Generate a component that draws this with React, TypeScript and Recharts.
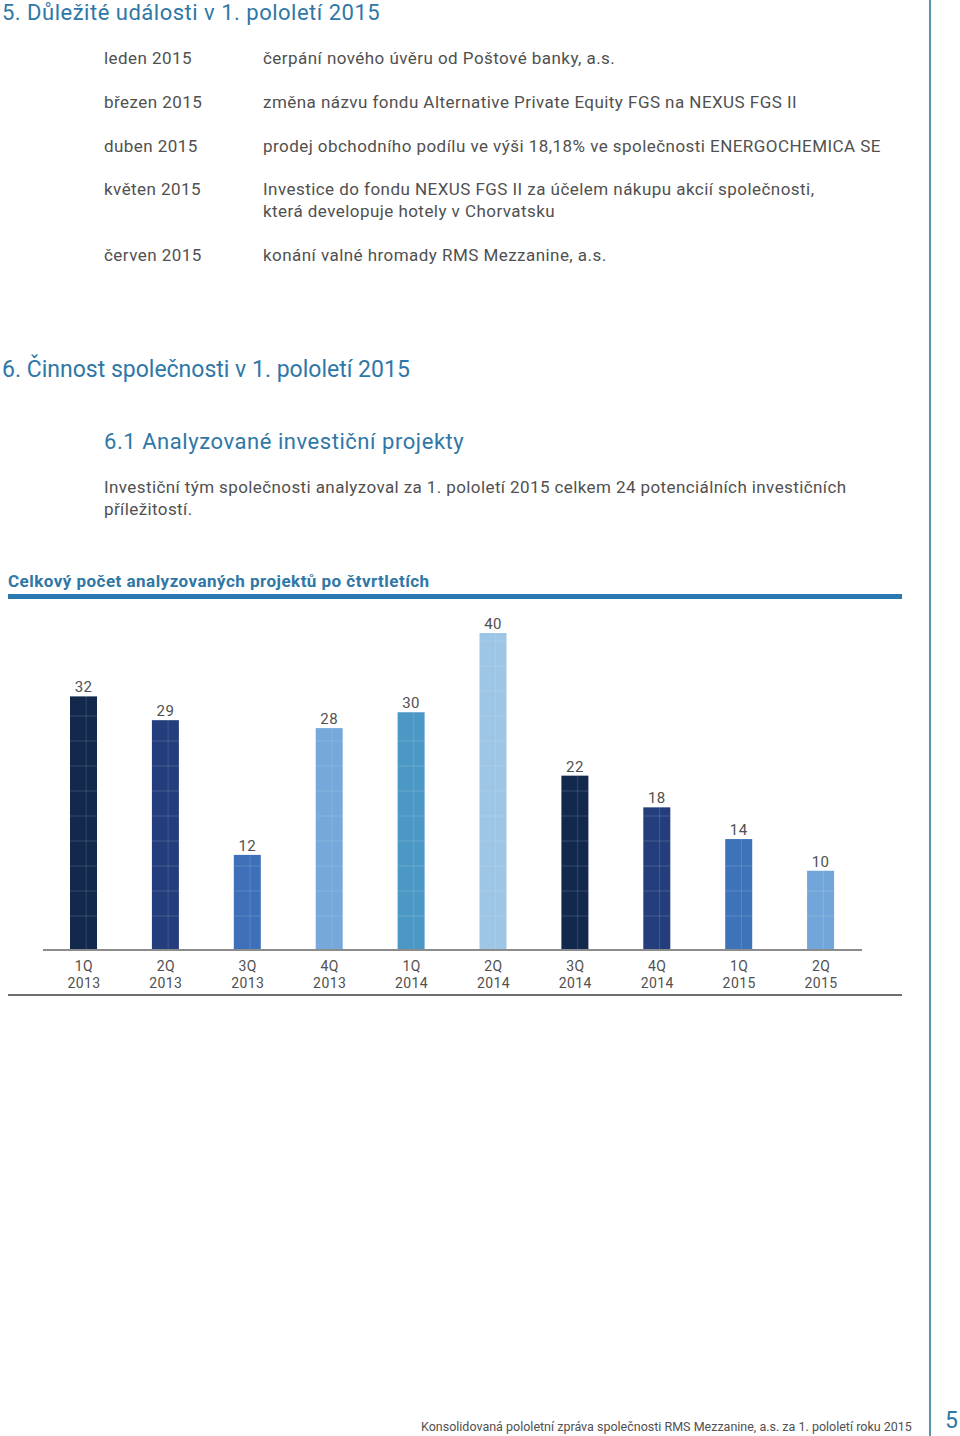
import React from "react";
import { BarChart, Bar, XAxis, YAxis, Cell, LabelList } from "recharts";

// data
const quarters = ["1Q", "2Q", "3Q", "4Q", "1Q", "2Q", "3Q", "4Q", "1Q", "2Q"];
const years = ["2013", "2013", "2013", "2013", "2014", "2014", "2014", "2014", "2015", "2015"];
const projectCounts = [32, 29, 12, 28, 30, 40, 22, 18, 14, 10];
const barColors = [
  "#12294d",
  "#243d7c",
  "#3d70b8",
  "#76a8da",
  "#4b97c5",
  "#9dc5e5",
  "#12294d",
  "#243d7c",
  "#3e73b9",
  "#72a6da",
];

const eventMonths = ["leden 2015", "březen 2015", "duben 2015", "květen 2015", "červen 2015"];
const eventTexts = [
  ["čerpání nového úvěru od Poštové banky, a.s."],
  ["změna názvu fondu Alternative Private Equity FGS na NEXUS FGS II"],
  ["prodej obchodního podílu ve výši 18,18% ve společnosti ENERGOCHEMICA SE"],
  [
    "Investice do fondu NEXUS FGS II za účelem nákupu akcií společnosti,",
    "která developuje hotely v Chorvatsku",
  ],
  ["konání valné hromady RMS Mezzanine, a.s."],
];
const eventTops = [47, 91, 135, 178, 244];

const chartData = quarters.map((q, i) => ({
  label: q + " " + years[i],
  quarter: q,
  year: years[i],
  value: projectCounts[i],
}));

const FONT = "Roboto, 'Noto Sans', sans-serif";
const TEXT = "#505050";
const BLUE = "#2f77a6";

// bar with the faint white grid seen in the print
const GridBar = (props: any) => {
  const { x, y, width, height, fill } = props;
  if (!height || height <= 0) return null;
  const base = y + height;
  const lines: React.ReactNode[] = [];
  for (let yy = base - 34, k = 0; yy > y + 4; yy -= 25, k++) {
    lines.push(
      <line key={k} x1={x} x2={x + width} y1={yy} y2={yy} stroke="#ffffff" strokeOpacity={0.16} strokeWidth={1} />
    );
  }
  return (
    <g>
      <rect x={x} y={y} width={width} height={height} fill={fill} />
      {lines}
      <line
        x1={x + width * 0.6}
        x2={x + width * 0.6}
        y1={y}
        y2={base}
        stroke="#ffffff"
        strokeOpacity={0.14}
        strokeWidth={1}
      />
    </g>
  );
};

const QuarterTick = (props: any) => {
  const { x, y, payload } = props;
  const [q, yr] = String(payload.value).split(" ");
  return (
    <g transform={`translate(${x},${y})`}>
      <text textAnchor="middle" fill={TEXT} fontSize={14} fontFamily={FONT} letterSpacing={0.4}>
        <tspan x={0} dy={13}>
          {q}
        </tspan>
        <tspan x={0} dy={17}>
          {yr}
        </tspan>
      </text>
    </g>
  );
};

export default function App() {
  return (
    <div
      style={{
        position: "absolute",
        left: 0,
        top: 0,
        width: 960,
        height: 1436,
        background: "#fff",
        fontFamily: FONT,
        color: TEXT,
        overflow: "hidden",
      }}
    >
      <div
        style={{ position: "absolute", left: 2, top: 0, fontSize: 22, color: BLUE, lineHeight: "26px", letterSpacing: 0.5 }}
      >
        5. Důležité události v 1. pololetí 2015
      </div>

      {eventMonths.map((m, i) => (
        <React.Fragment key={m}>
          <div
            style={{ position: "absolute", left: 104, top: eventTops[i], fontSize: 17, lineHeight: "22px", letterSpacing: 0.45 }}
          >
            {m}
          </div>
          <div
            style={{
              position: "absolute",
              left: 263,
              top: eventTops[i],
              fontSize: 17,
              lineHeight: "22px",
              letterSpacing: 0.45,
              whiteSpace: "nowrap",
            }}
          >
            {eventTexts[i].map((t) => (
              <div key={t}>{t}</div>
            ))}
          </div>
        </React.Fragment>
      ))}

      <div style={{ position: "absolute", left: 2, top: 356, fontSize: 23, color: BLUE, lineHeight: "28px" }}>
        6. Činnost společnosti v 1. pololetí 2015
      </div>
      <div
        style={{ position: "absolute", left: 104, top: 428, fontSize: 22, color: BLUE, lineHeight: "28px", letterSpacing: 0.55 }}
      >
        6.1 Analyzované investiční projekty
      </div>
      <div
        style={{
          position: "absolute",
          left: 104,
          top: 476,
          fontSize: 17,
          lineHeight: "22px",
          letterSpacing: 0.4,
          whiteSpace: "nowrap",
        }}
      >
        Investiční tým společnosti analyzoval za 1. pololetí 2015 celkem 24 potenciálních investičních
        <br />
        příležitostí.
      </div>

      <div
        style={{
          position: "absolute",
          left: 8,
          top: 570,
          fontSize: 17,
          fontWeight: 700,
          color: BLUE,
          lineHeight: "22px",
          letterSpacing: 0.47,
        }}
      >
        Celkový počet analyzovaných projektů po čtvrtletích
      </div>
      <div style={{ position: "absolute", left: 8, top: 594, width: 894, height: 5, background: "#2a78b0" }} />

      <div style={{ position: "absolute", left: 0, top: 600 }}>
        <BarChart
          width={960}
          height={400}
          data={chartData}
          margin={{ top: 33, right: 98, bottom: 0, left: 43 }}
          barCategoryGap={0}
        >
          <XAxis
            dataKey="label"
            interval={0}
            height={50}
            axisLine={{ stroke: "#8c8c8c", strokeWidth: 2 }}
            tickLine={false}
            tick={<QuarterTick />}
          />
          <YAxis hide domain={[0, 40]} />
          <Bar dataKey="value" barSize={27} shape={<GridBar />} isAnimationActive={false}>
            {chartData.map((d, i) => (
              <Cell key={d.label} fill={barColors[i]} />
            ))}
            <LabelList
              dataKey="value"
              position="top"
              offset={4}
              fill={TEXT}
              fontSize={15}
              fontFamily={FONT}
              letterSpacing={0.4}
            />
          </Bar>
        </BarChart>
      </div>

      <div style={{ position: "absolute", left: 8, top: 994, width: 894, height: 2, background: "#6e6e6e" }} />

      <div style={{ position: "absolute", left: 929, top: 0, width: 2, height: 1436, background: "#5a93ad" }} />
      <div
        style={{
          position: "absolute",
          left: 421,
          top: 1419,
          fontSize: 12.5,
          lineHeight: "16px",
          whiteSpace: "nowrap",
        }}
      >
        Konsolidovaná pololetní zpráva společnosti RMS Mezzanine, a.s. za 1. pololetí roku 2015
      </div>
      <div style={{ position: "absolute", left: 945, top: 1408, fontSize: 23, color: BLUE, lineHeight: "26px" }}>5</div>
    </div>
  );
}
